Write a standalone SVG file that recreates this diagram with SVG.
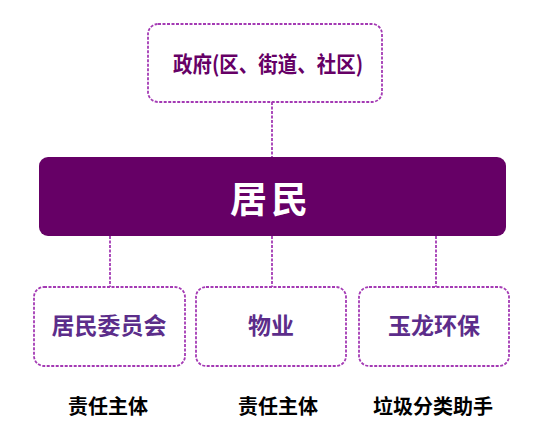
<svg xmlns="http://www.w3.org/2000/svg" width="534" height="444" viewBox="0 0 534 444">
<style>
.box{fill:#fff;stroke:#a43ab4;stroke-width:1.8;stroke-dasharray:3 1.5}
.conn{stroke:#a43ab4;stroke-width:1.8;stroke-dasharray:3 1.5;fill:none}
.lbl{font-family:"Noto Sans CJK SC","Noto Sans",sans-serif;font-weight:bold;text-anchor:middle}
.pl{fill:#5c2d8a;font-size:23px}
.note{fill:#000;font-size:20px}
</style>
<rect width="534" height="444" fill="#fff"/>
<g id="connectors">
<line class="conn" x1="272" y1="102" x2="272" y2="157"/>
<line class="conn" x1="110" y1="236" x2="110" y2="287"/>
<line class="conn" x1="272" y1="236" x2="272" y2="287"/>
<line class="conn" x1="436" y1="236" x2="436" y2="287"/>
</g>
<g id="gov">
<rect class="box" x="148" y="24" width="234" height="78" rx="10"/>
<text class="lbl" x="268" y="72" font-size="22" fill="#660066" textLength="190" lengthAdjust="spacingAndGlyphs">政府(区、街道、社区)</text>
</g>
<g id="residents">
<rect x="39" y="157" width="467" height="79" rx="9" fill="#660066"/>
<text class="lbl" x="271" y="213" font-size="37" fill="#fff" letter-spacing="4">居民</text>
</g>
<g id="committee">
<rect class="box" x="34" y="287" width="151" height="79" rx="10"/>
<text class="lbl pl" x="109" y="334">居民委员会</text>
</g>
<g id="property">
<rect class="box" x="196" y="287" width="150" height="79" rx="10"/>
<text class="lbl pl" x="271" y="334">物业</text>
</g>
<g id="yulong">
<rect class="box" x="359" y="287" width="150" height="79" rx="10"/>
<text class="lbl pl" x="434" y="334">玉龙环保</text>
</g>
<g id="notes">
<text class="lbl note" x="108" y="414">责任主体</text>
<text class="lbl note" x="278" y="414">责任主体</text>
<text class="lbl note" x="433" y="414">垃圾分类助手</text>
</g>
</svg>
